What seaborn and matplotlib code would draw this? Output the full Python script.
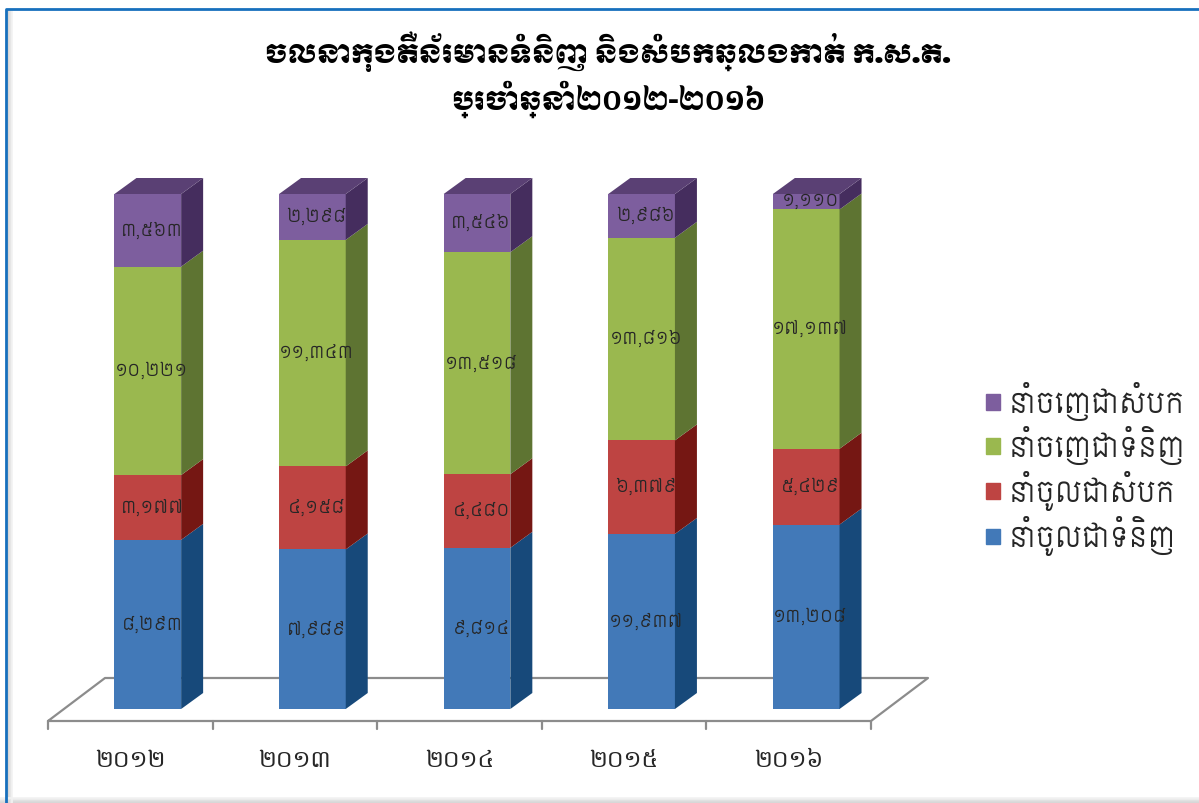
"""
plot.py
Container movements through the port 2012-2016, drawn as 100% stacked bars
with a fake 3D look. Saves out.png.
"""

import pandas as pd
import matplotlib.pyplot as plt
import seaborn as sns
from matplotlib.patches import Polygon, Rectangle
from matplotlib.transforms import ScaledTranslation

# Data
years = ["២០១២", "២០១៣", "២០១៤", "២០១៥", "២០១៦"]
import_goods = [8293, 7989, 9814, 11937, 13208]
import_empty = [3177, 4158, 4480, 6379, 5429]
export_goods = [10221, 11343, 13518, 13816, 17137]
export_empty = [3563, 2298, 3546, 2986, 1110]
value_labels = {
    "import_goods": ["៨,២៩៣", "៧,៩៨៩", "៩,៨១៤", "១១,៩៣៧", "១៣,២០៨"],
    "import_empty": ["៣,១៧៧", "៤,១៥៨", "៤,៤៨០", "៦,៣៧៩", "៥,៤២៩"],
    "export_goods": ["១០,២២១", "១១,៣៤៣", "១៣,៥១៨", "១៣,៨១៦", "១៧,១៣៧"],
    "export_empty": ["៣,៥៦៣", "២,២៩៨", "៣,៥៤៦", "២,៩៨៦", "១,១១០"],
}
series_names = ["នាំចូលជាទំនិញ", "នាំចូលជាសំបក", "នាំចេញជាទំនិញ", "នាំចេញជាសំបក"]
title_text = "ចលនាកុងតឺន័រមានទំនិញ និងសំបកឆ្លងកាត់ ក.ស.ត.\nប្រចាំឆ្នាំ២០១២-២០១៦"

# Colours: front, side, top
FRONT = ["#4279B8", "#BE4442", "#9AB84F", "#7D5E9E"]
SIDE = ["#17497A", "#751713", "#5E7432", "#452D5E"]
TOP_COLOR = "#5A4074"

W, H = 1199, 804
BODY_FONT = ["Siemreap", "Battambang", "Noto Sans Khmer", "DejaVu Sans"]
TICK_FONT = ["Hanuman", "Siemreap", "Noto Sans Khmer", "DejaVu Sans"]
TITLE_FONT = ["Moul", "Noto Sans Khmer", "DejaVu Sans"]

sns.set_theme(style="white")
plt.rcParams["font.family"] = BODY_FONT

fig = plt.figure(figsize=(W / 100, H / 100), dpi=100)
# axes box = the front plane of the bars, in pixels of the reference
ax = fig.add_axes([65.5 / W, 1 - 710 / H, 823 / W, 515 / H])
ax.set_facecolor("none")

df = pd.DataFrame({
    "year": years,
    "import_goods": import_goods,
    "import_empty": import_empty,
    "export_goods": export_goods,
    "export_empty": export_empty,
})
keys = list(value_labels.keys())
totals = df[keys].sum(axis=1)

BAR_WIDTH = 0.405
px_x = 823 / 5  # pixels per category
px_y = 515  # pixels per 100%
depth_x = 22 / px_x
depth_y = 16 / px_y

bottom = pd.Series([0.0] * len(years))
for i, key in enumerate(keys):
    share = df[key] / totals
    sns.barplot(x=df["year"], y=share, bottom=bottom, color=FRONT[i], saturation=1,
                width=BAR_WIDTH, ax=ax, zorder=3, linewidth=0)
    for j in range(len(years)):
        x0 = j - BAR_WIDTH / 2
        x1 = j + BAR_WIDTH / 2
        y0 = bottom[j]
        y1 = bottom[j] + share[j]
        # right side face
        ax.add_patch(Polygon([(x1, y0), (x1 + depth_x, y0 + depth_y),
                              (x1 + depth_x, y1 + depth_y), (x1, y1)],
                             facecolor=SIDE[i], edgecolor="none", zorder=3, clip_on=False))
        if i == len(keys) - 1:
            ax.add_patch(Polygon([(x0, y1), (x1, y1), (x1 + depth_x, y1 + depth_y),
                                  (x0 + depth_x, y1 + depth_y)],
                                 facecolor=TOP_COLOR, edgecolor="none", zorder=3, clip_on=False))
        ax.annotate(value_labels[key][j], (j, (y0 + y1) / 2), xytext=(3, 1),
                    textcoords="offset points", ha="center", va="center",
                    fontsize=12.5, color="#262626", zorder=5, annotation_clip=False)
    bottom = bottom + share

ax.set_xlim(-0.5, 4.5)
ax.set_ylim(0, 1)
ax.set_yticks([])
ax.set_xlabel("")
ax.set_ylabel("")
sns.despine(ax=ax, left=True, bottom=True)

# Floor, drawn from the category grid
shift = -17.5 / px_x
floor_y = -12 / px_y
floor_dx = 57 / px_x
floor_dy = 43 / px_y
x_left = -0.5 + shift
x_right = 4.5 + shift
ax.plot([x_left, x_left + floor_dx, x_right + floor_dx, x_right, x_left],
        [floor_y, floor_y + floor_dy, floor_y + floor_dy, floor_y, floor_y],
        color="#8C8C8C", lw=1.6, zorder=1, clip_on=False)
for j in range(len(years) + 1):
    ax.plot([x_left + j, x_left + j], [floor_y, floor_y - 8 / px_y],
            color="#8C8C8C", lw=1.6, zorder=1, clip_on=False)

# Year labels sit under the floor cells, not under the bars
ax.set_xticks(range(len(years)), years, fontsize=17, color="#262626", family=TICK_FONT)
ax.tick_params(axis="x", length=0, pad=28)
for lbl in ax.get_xticklabels():
    lbl.set_transform(lbl.get_transform() + ScaledTranslation(-17.5 / 100, 0, fig.dpi_scale_trans))

# Legend, reversed as in the stack
handles = [Rectangle((0, 0), 1, 1, color=c) for c in FRONT[::-1]]
fig.legend(handles, series_names[::-1], loc="center left", bbox_to_anchor=(961 / W, 1 - 469 / H),
           frameon=False, fontsize=20, handlelength=0.5, handleheight=0.5,
           handletextpad=0.32, labelspacing=0.2, labelcolor="#262626")

fig.text(608 / W, 1 - 75 / H, title_text, ha="center", va="center", fontsize=18.5,
         family=TITLE_FONT, color="black", linespacing=1.3)

# Picture frame: blue top/left line, soft grey shadow inside and along the bottom
for k, grey in enumerate(["#D0D0D0", "#DCDCDC", "#E8E8E8", "#F2F2F2"]):
    fig.add_artist(plt.Line2D([(8 + k * 1.5) / W] * 2, [0, 1 - 12 / H], color=grey, lw=1.2))
    fig.add_artist(plt.Line2D([0, 1], [(1 + k * 1.5) / H] * 2, color=grey, lw=1.2))
fig.add_artist(plt.Line2D([6 / W, 6 / W, 1], [0, 1 - 10 / H, 1 - 10 / H], color="#1770BD", lw=2))

plt.savefig("out.png", dpi=100)
plt.close()
